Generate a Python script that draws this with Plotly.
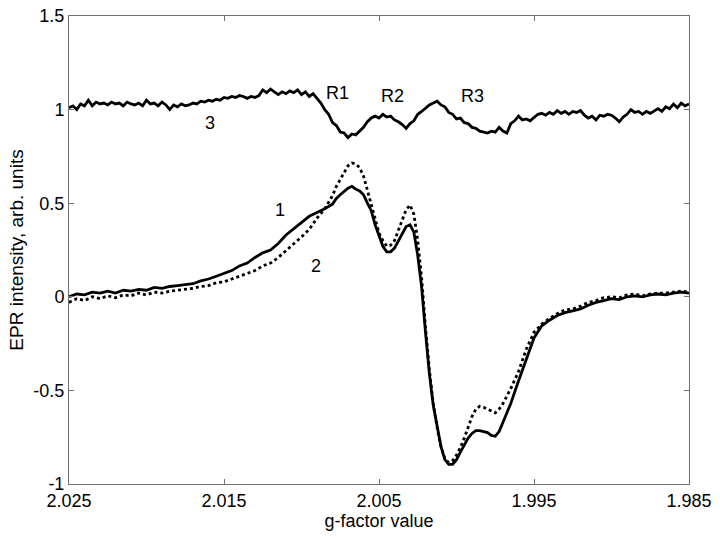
import plotly.graph_objects as go

# -- g-factor sampling of spectra 1 and 2 --
G12 = [
    2.025, 2.0245, 2.024, 2.0235, 2.023, 2.0225, 2.022, 2.0215, 2.021, 2.0205,
    2.020, 2.0195, 2.019, 2.0185, 2.018, 2.0175, 2.017, 2.0165, 2.016, 2.0155,
    2.015, 2.0145, 2.014, 2.0135, 2.013, 2.0125, 2.012, 2.0115, 2.011, 2.0105,
    2.010, 2.0095, 2.009, 2.0085, 2.008,
    2.00775, 2.0075, 2.00725, 2.007, 2.00675, 2.0065, 2.00625, 2.006, 2.00575,
    2.0055, 2.00525, 2.005, 2.00475, 2.0045, 2.00425, 2.004, 2.00375, 2.0035,
    2.00325, 2.003, 2.00275, 2.0025, 2.00225, 2.002, 2.00175, 2.0015, 2.00125,
    2.001, 2.00075, 2.0005, 2.00025, 2.000, 1.99975, 1.9995, 1.99925, 1.999,
    1.99875, 1.9985, 1.99825, 1.998, 1.99775, 1.9975, 1.99725, 1.997,
    1.9965, 1.996, 1.9955, 1.995, 1.9945, 1.994, 1.9935, 1.993, 1.9925, 1.992,
    1.9915, 1.991, 1.9905, 1.990, 1.9895, 1.989, 1.9885, 1.988, 1.9875, 1.987,
    1.9865, 1.986, 1.9855, 1.985,
]

# spectrum 1 (solid)
SPEC1 = [
    0.00, 0.015, 0.01, 0.025, 0.02, 0.03, 0.02, 0.035, 0.03, 0.04,
    0.035, 0.05, 0.045, 0.055, 0.06, 0.065, 0.07, 0.085, 0.095, 0.11,
    0.125, 0.14, 0.165, 0.18, 0.21, 0.235, 0.25, 0.285, 0.33, 0.365,
    0.40, 0.43, 0.45, 0.47, 0.495,
    0.525, 0.545, 0.565, 0.58, 0.59, 0.575, 0.565, 0.545, 0.50,
    0.46, 0.385, 0.325, 0.27, 0.24, 0.24, 0.26, 0.30, 0.34,
    0.375, 0.385, 0.345, 0.22, 0.05, -0.19, -0.41, -0.58, -0.70,
    -0.80, -0.87, -0.895, -0.895, -0.87, -0.83, -0.79, -0.755, -0.73,
    -0.715, -0.715, -0.72, -0.725, -0.74, -0.745, -0.72, -0.67,
    -0.57, -0.45, -0.34, -0.22, -0.155, -0.125, -0.10, -0.085, -0.075, -0.065,
    -0.045, -0.03, -0.02, -0.01, -0.015, 0.0, 0.005, 0.0, 0.01, 0.015,
    0.01, 0.02, 0.025, 0.02,
]

# spectrum 2 (dotted)
SPEC2 = [
    -0.03, -0.01, -0.02, 0.0, -0.01, 0.005, -0.005, 0.01, 0.005, 0.02,
    0.01, 0.025, 0.02, 0.03, 0.035, 0.04, 0.045, 0.055, 0.06, 0.075,
    0.08, 0.095, 0.11, 0.125, 0.14, 0.165, 0.18, 0.21, 0.245, 0.28,
    0.32, 0.36, 0.42, 0.47, 0.54,
    0.59, 0.625, 0.665, 0.70, 0.715, 0.71, 0.69, 0.645, 0.57,
    0.49, 0.41, 0.34, 0.30, 0.27, 0.275, 0.30, 0.355, 0.415,
    0.465, 0.49, 0.44, 0.30, 0.10, -0.16, -0.39, -0.57, -0.70,
    -0.80, -0.865, -0.885, -0.875, -0.845, -0.805, -0.755, -0.70, -0.64,
    -0.60, -0.585, -0.59, -0.60, -0.61, -0.62, -0.60, -0.57,
    -0.49, -0.40, -0.28, -0.19, -0.145, -0.115, -0.09, -0.07, -0.065, -0.05,
    -0.03, -0.02, -0.005, 0.0, -0.005, 0.01, 0.015, 0.005, 0.015, 0.02,
    0.02, 0.025, 0.03, 0.025,
]

# ratio spectrum 3, sampled every 0.00025 in g
G3 = [
    2.025, 2.02475, 2.0245, 2.02425, 2.024, 2.02375, 2.0235, 2.02325, 2.023, 2.02275,
    2.0225, 2.02225, 2.022, 2.02175, 2.0215, 2.02125, 2.021, 2.02075, 2.0205, 2.02025,
    2.020, 2.01975, 2.0195, 2.01925, 2.019, 2.01875, 2.0185, 2.01825, 2.018, 2.01775,
    2.0175, 2.01725, 2.017, 2.01675, 2.0165, 2.01625, 2.016, 2.01575, 2.0155, 2.01525,
    2.015, 2.01475, 2.0145, 2.01425, 2.014, 2.01375, 2.0135, 2.01325, 2.013, 2.01275,
    2.0125, 2.01225, 2.012, 2.01175, 2.0115, 2.01125, 2.011, 2.01075, 2.0105, 2.01025,
    2.010, 2.00975, 2.0095, 2.00925, 2.009, 2.00875, 2.0085, 2.00825, 2.008, 2.00775,
    2.0075, 2.00725, 2.007, 2.00675, 2.0065, 2.00625, 2.006, 2.00575, 2.0055, 2.00525,
    2.005, 2.00475, 2.0045, 2.00425, 2.004, 2.00375, 2.0035, 2.00325, 2.003, 2.00275,
    2.0025, 2.00225, 2.002, 2.00175, 2.0015, 2.00125, 2.001, 2.00075, 2.0005, 2.00025,
    2.000, 1.99975, 1.9995, 1.99925, 1.999, 1.99875, 1.9985, 1.99825, 1.998, 1.99775,
    1.9975, 1.99725, 1.997, 1.99675, 1.9965, 1.99625, 1.996, 1.99575, 1.9955, 1.99525,
    1.995, 1.99475, 1.9945, 1.99425, 1.994, 1.99375, 1.9935, 1.99325, 1.993, 1.99275,
    1.9925, 1.99225, 1.992, 1.99175, 1.9915, 1.99125, 1.991, 1.99075, 1.9905, 1.99025,
    1.990, 1.98975, 1.9895, 1.98925, 1.989, 1.98875, 1.9885, 1.98825, 1.988, 1.98775,
    1.9875, 1.98725, 1.987, 1.98675, 1.9865, 1.98625, 1.986, 1.98575, 1.9855, 1.98525,
    1.985,
]

SPEC3 = [
    1.01, 1.02, 1.00, 1.03, 1.02, 1.05, 1.02, 1.04, 1.03, 1.035,
    1.025, 1.04, 1.03, 1.035, 1.02, 1.04, 1.03, 1.025, 1.035, 1.02,
    1.05, 1.03, 1.035, 1.02, 1.04, 1.025, 1.00, 1.025, 1.015, 1.03,
    1.02, 1.025, 1.035, 1.03, 1.045, 1.04, 1.05, 1.045, 1.055, 1.05,
    1.065, 1.06, 1.07, 1.065, 1.075, 1.07, 1.06, 1.07, 1.065, 1.075,
    1.105, 1.09, 1.11, 1.095, 1.08, 1.095, 1.085, 1.10, 1.09, 1.105,
    1.08, 1.095, 1.07, 1.085, 1.06, 1.035, 1.00, 0.975, 0.93, 0.915,
    0.88, 0.875, 0.85, 0.87, 0.865, 0.885, 0.905, 0.935, 0.955, 0.965,
    0.955, 0.975, 0.96, 0.965, 0.945, 0.935, 0.92, 0.90, 0.925, 0.94,
    0.975, 0.99, 1.01, 1.025, 1.035, 1.045, 1.025, 1.015, 0.985, 0.975,
    0.95, 0.955, 0.93, 0.925, 0.905, 0.90, 0.885, 0.88, 0.875, 0.885,
    0.88, 0.905, 0.885, 0.875, 0.925, 0.94, 0.965, 0.945, 0.95, 0.94,
    0.955, 0.975, 0.98, 0.97, 0.985, 0.975, 0.995, 0.98, 0.99, 0.975,
    0.99, 0.985, 0.995, 0.97, 0.955, 0.965, 0.945, 0.97, 0.965, 0.975,
    0.97, 0.955, 0.935, 0.96, 0.975, 1.00, 0.985, 0.99, 0.975, 0.99,
    0.98, 0.995, 1.005, 0.99, 1.015, 1.005, 1.03, 1.01, 1.035, 1.02,
    1.03,
]

# curve labels: (text, g, intensity)
LABELS = [
    ("3", 2.0159, 0.93),
    ("R1", 2.0077, 1.09),
    ("R2", 2.00416, 1.075),
    ("R3", 1.99894, 1.075),
    ("1", 2.01139, 0.465),
    ("2", 2.00906, 0.165),
]

X_TICKS = [2.025, 2.015, 2.005, 1.995, 1.985]
X_TICKTEXT = ["2.025", "2.015", "2.005", "1.995", "1.985"]
Y_TICKS = [-1, -0.5, 0, 0.5, 1, 1.5]
Y_TICKTEXT = ["-1", "-0.5", "0", "0.5", "1", "1.5"]

FONT = "Liberation Sans, Arial, Helvetica, sans-serif"
AXIS_GREY = "#707070"

fig = go.Figure()

fig.add_trace(go.Scatter(
    x=G12, y=SPEC2, mode="lines",
    line=dict(color="black", width=2.8, dash="dot"),
))
fig.add_trace(go.Scatter(
    x=G12, y=SPEC1, mode="lines",
    line=dict(color="black", width=2.8),
))
fig.add_trace(go.Scatter(
    x=G3, y=SPEC3, mode="lines",
    line=dict(color="black", width=2.8),
))

for text, gx, gy in LABELS:
    fig.add_annotation(
        x=gx, y=gy, text=text, showarrow=False,
        font=dict(family=FONT, size=18, color="black"),
    )

axis_common = dict(
    showgrid=False, zeroline=False,
    showline=True, linecolor=AXIS_GREY, linewidth=1,
    mirror="ticks", ticks="inside", ticklen=5, tickcolor=AXIS_GREY,
    tickfont=dict(family=FONT, size=18, color="black"),
    ticklabeloverflow="allow", automargin=False,
)

fig.update_layout(
    width=720, height=538,
    margin=dict(l=69, r=31, t=16, b=54),
    paper_bgcolor="white", plot_bgcolor="white",
    showlegend=False,
    font=dict(family=FONT, size=18, color="black"),
    xaxis=dict(
        range=[2.025, 1.985], tickvals=X_TICKS, ticktext=X_TICKTEXT,
        title=dict(text="g-factor value", standoff=2,
                   font=dict(family=FONT, size=18)),
        **axis_common,
    ),
    yaxis=dict(
        range=[-1, 1.5], tickvals=Y_TICKS, ticktext=Y_TICKTEXT,
        title=dict(text="EPR intensity, arb. units", standoff=4,
                   font=dict(family=FONT, size=19)),
        **axis_common,
    ),
)

# drop the browser's default body margin so the figure fills the window
fig.write_html(
    "out.html",
    config={"displayModeBar": False},
    post_script="document.body.style.margin = '0'; document.body.style.overflow = 'hidden';",
)
